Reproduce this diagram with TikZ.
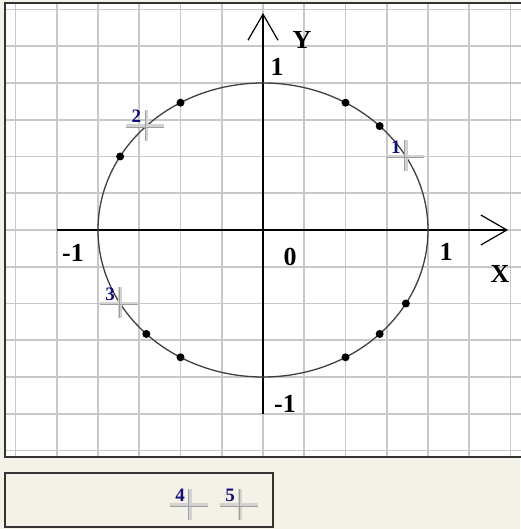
\documentclass[tikz,border=0pt]{standalone}
\usepackage{fontspec}
\setmainfont{Liberation Serif}
\usepackage{tikz}
\usetikzlibrary{positioning,arrows.meta}
\definecolor{panelbg}{HTML}{F4F1E6}
\definecolor{gridgray}{HTML}{C8C8C8}
\definecolor{marknavy}{HTML}{10107A}

\begin{document}
\begin{tikzpicture}[
    x=165pt, y=147pt,
    axis/.style={draw=black,line width=1.2pt,-{Straight Barb[length=26pt,width=30pt,line width=1.2pt]}},
    gridline/.style={draw=gridgray,line width=1.6pt},
    frame/.style={draw=black!80,line width=1.5pt},
    curve/.style={draw=black!75,line width=1.3pt},
    dot/.style={circle,fill=black,inner sep=0pt,minimum size=8pt},
    ticklabel/.style={font=\fontsize{26}{26}\selectfont\bfseries,inner sep=0pt},
    marknum/.style={font=\fontsize{19}{19}\selectfont\bfseries,text=marknavy,inner sep=0pt,anchor=south east},
    markarm/.style={draw=gray!35,line width=3.5pt},
    markedge/.style={draw=gray!75,line width=1pt},
]

% ===== Background and frames =====
\useasboundingbox[fill=panelbg] (-263pt,-299pt) rectangle (257pt,230pt);
\fill[white] (-258pt,-227pt) rectangle (270pt,227pt);
\draw[gridline] (-258pt,-227pt) grid[step=0.25] (270pt,227pt);
\draw[frame] (-258pt,-227pt) rectangle (270pt,227pt);
\draw[frame,fill=panelbg] (-258pt,-243pt) rectangle (10pt,-297pt);

% ===== Axes =====
\draw[axis] (-1.25,0) -- (1.485,0);
\draw[axis] (0,-1.25) -- (0,1.476);

% ===== Unit circle and points =====
\draw[curve] (0,0) ellipse [x radius=1, y radius=1];
\foreach \a in {45,60,120,150,225,240,300,315,330}
    \node[dot] (dot\a) at (\a:1) {};

% ===== Labels =====
\node[ticklabel] (ylabel) at (39pt,190pt) {Y};
\node[ticklabel] (xlabel) at (237pt,-44pt) {X};
\node[ticklabel] (ytop) at (14pt,163pt) {1};
\node[ticklabel] (xright) at (183pt,-22pt) {1};
\node[ticklabel] (xleft) at (-190pt,-23pt) {-1};
\node[ticklabel] (origin) at (27pt,-27pt) {0};
\node[ticklabel] (ybottom) at (22pt,-174pt) {-1};

% ===== Markers =====
\coordinate (mark1) at (30:1);
\coordinate (mark2) at (135:1);
\coordinate (mark3) at (210:1);
\coordinate (mark4) at (-73pt,-275pt);
\coordinate (mark5) at (-23pt,-275pt);
\foreach \n in {1,...,5} {
    \draw[markarm] ([yshift=16pt]mark\n) -- ([yshift=-15pt]mark\n);
    \draw[markarm] ([xshift=-20pt]mark\n) -- ([xshift=18pt]mark\n);
    \draw[markedge] ([shift={(-1pt,16pt)}]mark\n) -- ([shift={(-1pt,-15pt)}]mark\n);
    \draw[markedge] ([shift={(-20pt,-1pt)}]mark\n) -- ([shift={(18pt,-1pt)}]mark\n);
    \node[marknum] (num\n) at ([shift={(-5pt,3pt)}]mark\n) {\n};
}

\end{tikzpicture}
\end{document}
